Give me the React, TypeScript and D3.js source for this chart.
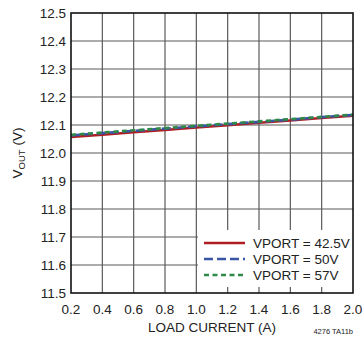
import React from "react";
import * as d3 from "d3";

const loadCurrent = [0.2, 0.4, 0.6, 0.8, 1.0, 1.2, 1.4, 1.6, 1.8, 2.0];
const vport425 = [12.057, 12.065, 12.074, 12.082, 12.091, 12.099, 12.108, 12.116, 12.125, 12.133];
const vport50 = [12.063, 12.071, 12.079, 12.087, 12.095, 12.103, 12.111, 12.119, 12.128, 12.136];
const vport57 = [12.065, 12.073, 12.081, 12.089, 12.097, 12.105, 12.113, 12.121, 12.129, 12.137];
const xTicks = [0.2, 0.4, 0.6, 0.8, 1.0, 1.2, 1.4, 1.6, 1.8, 2.0];
const yTicks = [11.5, 11.6, 11.7, 11.8, 11.9, 12.0, 12.1, 12.2, 12.3, 12.4, 12.5];
const seriesNames = ["VPORT = 42.5V", "VPORT = 50V", "VPORT = 57V"];

export default function App() {
  const L = 71, R = 353, T = 13, B = 293;
  const x = d3.scaleLinear().domain([0.2, 2.0]).range([L, R]);
  const y = d3.scaleLinear().domain([11.5, 12.5]).range([B, T]);
  const series = [
    { name: seriesNames[0], values: vport425, color: "#b01e23", dash: "" },
    { name: seriesNames[1], values: vport50, color: "#3b55a6", dash: "9,4" },
    { name: seriesNames[2], values: vport57, color: "#2f8a4a", dash: "5,3.5" },
  ];
  const line = d3.line<number>().x((_, i) => x(loadCurrent[i])).y((d) => y(d));
  const font = "'Liberation Sans', Arial, sans-serif";
  return (
    <svg width={363} height={341} style={{ position: "absolute", left: 0, top: 0, background: "#fff" }} fontFamily={font}>
      <rect x={0} y={0} width={363} height={341} fill="#fff" />
      {xTicks.slice(1, -1).map((t) => (
        <line key={"gx" + t} x1={x(t)} x2={x(t)} y1={T} y2={B} stroke="#5a5a5a" strokeWidth={1.2} />
      ))}
      {yTicks.slice(1, -1).map((t) => (
        <line key={"gy" + t} x1={L} x2={R} y1={y(t)} y2={y(t)} stroke="#5a5a5a" strokeWidth={1.2} />
      ))}
      {series.map((s) => (
        <path key={s.name} d={line(s.values) || ""} fill="none" stroke={s.color} strokeWidth={2.6} strokeDasharray={s.dash} />
      ))}
      <rect x={198} y={230} width={R - 198} height={57} fill="#fff" />
      <rect x={L} y={T} width={R - L} height={B - T} fill="none" stroke="#111" strokeWidth={1.6} />
      {yTicks.map((t) => (
        <text key={"yl" + t} x={66} y={y(t) + 5} textAnchor="end" fontSize={13.5} fill="#222">
          {t.toFixed(1)}
        </text>
      ))}
      {xTicks.map((t) => (
        <text key={"xl" + t} x={x(t)} y={314} textAnchor="middle" fontSize={13.5} fill="#222">
          {t.toFixed(1)}
        </text>
      ))}
      {series.map((s, i) => (
        <g key={"lg" + i}>
          <line x1={204} x2={245} y1={243 + i * 16} y2={243 + i * 16} stroke={s.color} strokeWidth={2.6} strokeDasharray={s.dash} />
          <text x={253} y={248 + i * 16} fontSize={13.5} fill="#222">{s.name}</text>
        </g>
      ))}
      <text x={212} y={332} textAnchor="middle" fontSize={13.5} fill="#222">LOAD CURRENT (A)</text>
      <text transform="translate(22,153) rotate(-90)" textAnchor="middle" fontSize={13.5} fill="#222">
        V<tspan fontSize={9.5} dy={3}>OUT</tspan><tspan dy={-3}> (V)</tspan>
      </text>
      <text x={353} y={334} textAnchor="end" fontSize={7.5} fill="#222">4276 TA11b</text>
    </svg>
  );
}
